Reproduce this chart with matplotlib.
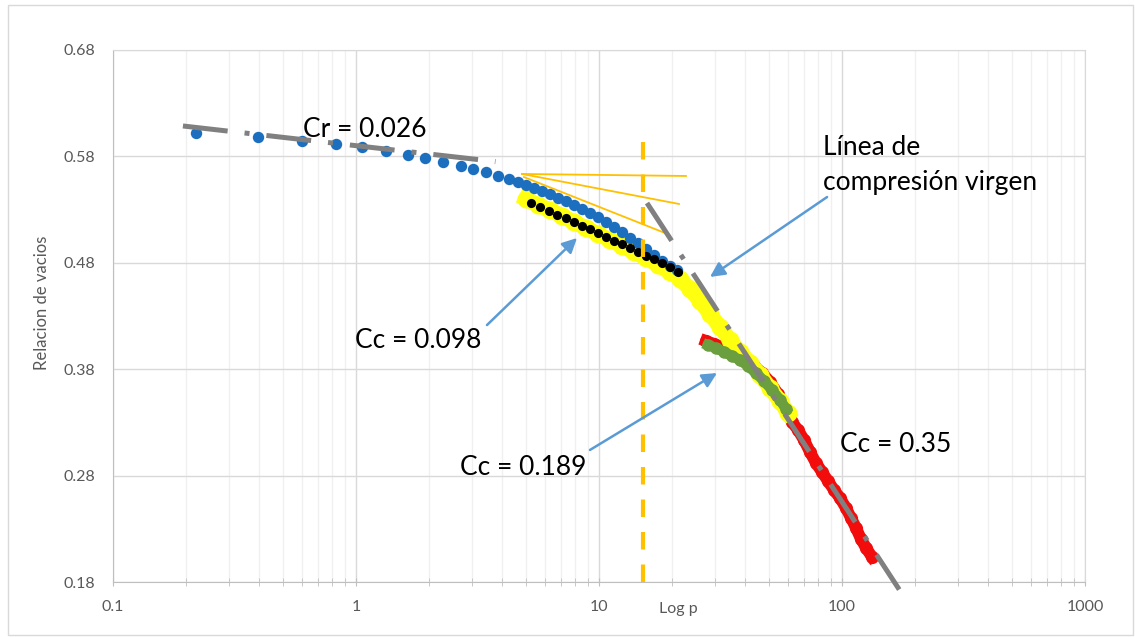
import numpy as np
import matplotlib
matplotlib.use("Agg")
import matplotlib.pyplot as plt
from matplotlib.patches import Rectangle

# --- Datos del ensayo de consolidación (p, e) ---
# Etapa de recompresión (azul)
p_etapa1 = [0.22, 0.394, 0.598, 0.825, 1.062, 1.329, 1.632, 1.929, 2.288, 2.705,
            3.022, 3.428, 3.850, 4.263, 4.656, 5.007, 5.40, 5.83, 6.29, 6.78,
            7.32, 7.89, 8.51, 9.18, 9.91, 10.69, 11.53, 12.44, 13.42, 14.47,
            15.61, 16.84, 18.17, 19.60, 20.94]
e_etapa1 = [0.6017, 0.5985, 0.5948, 0.5917, 0.5886, 0.5851, 0.5813, 0.5782, 0.5750, 0.5710,
            0.5679, 0.5656, 0.5619, 0.5588, 0.5557, 0.5531, 0.5503, 0.5475, 0.5447, 0.5409,
            0.5381, 0.5343, 0.5306, 0.5268, 0.5230, 0.5183, 0.5136, 0.5089, 0.5033, 0.4986,
            0.4930, 0.4873, 0.4817, 0.4770, 0.4732]

# Etapa de descarga (negro)
p_etapa2 = [5.25, 5.72, 6.23, 6.72, 7.32, 7.89, 8.51, 9.18, 9.91, 10.69,
            11.53, 12.44, 13.42, 14.47, 15.61, 16.84, 18.17, 19.60, 21.14]
e_etapa2 = [0.5362, 0.5324, 0.5287, 0.5249, 0.5221, 0.5183, 0.5146, 0.5118, 0.5080, 0.5042,
            0.5005, 0.4977, 0.4939, 0.4902, 0.4864, 0.4836, 0.4798, 0.4761, 0.4714]

# Etapa de carga (amarillo)
p_etapa3 = [5.007, 5.61, 6.29, 7.04, 7.89, 8.84, 9.91, 11.10, 12.44, 13.93,
            15.61, 17.49, 19.60, 21.54, 23.68, 26.04, 28.63, 31.47, 34.60, 38.04,
            41.82, 45.98, 50.55, 55.57, 59.95]
e_etapa3 = [0.5400, 0.5343, 0.5296, 0.5240, 0.5183, 0.5127, 0.5071, 0.5014, 0.4958, 0.4902,
            0.4845, 0.4779, 0.4714, 0.4648, 0.4554, 0.4441, 0.4319, 0.4197, 0.4074, 0.3962,
            0.3858, 0.3746, 0.3623, 0.3501, 0.3388]

# Etapa de descarga (verde)
p_etapa4 = [28.09, 30.30, 32.69, 35.27, 38.04, 41.04, 44.28, 47.76, 51.52, 55.57, 58.83]
e_etapa4 = [0.4027, 0.3999, 0.3962, 0.3924, 0.3886, 0.3830, 0.3764, 0.3689, 0.3605, 0.3511, 0.3426]

# Etapa de carga final (rojo)
p_etapa5 = [27.56, 29.73, 32.08, 34.60, 37.33, 40.27, 43.44, 46.86, 50.55, 54.53,
            58.83, 62.26, 65.90, 69.76, 73.84, 78.16, 82.74, 87.58, 92.70, 98.13,
            103.9, 108.9, 114.2, 119.7, 125.6, 132.9]
e_etapa5 = [0.4065, 0.4037, 0.4009, 0.3971, 0.3933, 0.3886, 0.3830, 0.3764, 0.3680, 0.3567,
            0.3417, 0.3304, 0.3229, 0.3135, 0.3022, 0.2918, 0.2834, 0.2749, 0.2665, 0.2589,
            0.2495, 0.2402, 0.2308, 0.2204, 0.2120, 0.2035]

# Índices de la curva
Cr = 0.026
Cc_virgen = 0.35
Cc_descarga1 = 0.098
Cc_descarga2 = 0.189

# Recta de recompresión
p_cr = [0.194, 3.75]
e_cr0 = 0.6086
# Línea de compresión virgen
p_lcv = [15.76, 172.0]
e_lcv0 = 0.5362

# Construcción de Casagrande (líneas auxiliares)
p_casa_ini = [4.82, 4.82, 4.91]
e_casa_ini = [0.5635, 0.5635, 0.5606]
p_casa_fin = [22.80, 21.34, 18.69]
e_casa_fin = [0.5616, 0.5353, 0.5080]

# Presión de preconsolidación
p_precons = 15.17
e_precons_rango = [0.5935, 0.172]

# Flechas de anotación: (cola, punta)
flechas = [
    ((86.8, 0.5418), (28.63, 0.4667)),
    ((3.46, 0.4215), (8.12, 0.5033)),
    ((9.18, 0.3041), (30.59, 0.3764)),
]

x_ticks = [0.1, 1, 10, 100, 1000]
x_ticklabels = ["0.1", "1", "10", "100", "1000"]
y_ticks = [0.18, 0.28, 0.38, 0.48, 0.58, 0.68]

# --- Figura ---
W, H = 1135, 637
fig = plt.figure(figsize=(W / 100, H / 100), dpi=100)
fig.patch.set_facecolor("white")
fig.patches.append(Rectangle((8 / W, 2 / H), 1125 / W, 630 / H, transform=fig.transFigure,
                             fill=False, edgecolor="#D9D9D9", lw=1))

ax = fig.add_axes([113 / W, (H - 582) / H, 972 / W, 532 / H])
ax.set_xscale("log")
ax.set_xlim(0.1, 1000)
ax.set_ylim(0.18, 0.68)

# Cuadrícula
ax.set_xticks(x_ticks)
ax.set_xticklabels(x_ticklabels)
ax.set_yticks(y_ticks)
ax.set_yticklabels([f"{v:.2f}" for v in y_ticks])
ax.grid(True, which="major", axis="both", color="#D9D9D9", lw=1)
ax.grid(True, which="minor", axis="x", color="#F0F0F0", lw=1)
ax.set_axisbelow(True)
for side in ["top", "right"]:
    ax.spines[side].set_color("#D9D9D9")
for side in ["left", "bottom"]:
    ax.spines[side].set_color("#BFBFBF")
ax.tick_params(axis="y", length=0, pad=13, labelsize=11.5, labelcolor="#595959")
ax.tick_params(axis="x", which="both", direction="inout", length=6, color="#BFBFBF",
               pad=10, labelsize=11.5, labelcolor="#595959")
for lab in ax.get_xticklabels() + ax.get_yticklabels():
    lab.set_family("Lato")

# Series del ensayo
ax.plot(p_etapa5, e_etapa5, "-o", color="#F20C0C", lw=8.5, ms=9.5, mec="none", zorder=2)
ax.plot(p_etapa3, e_etapa3, "-o", color="#FFFF10", lw=11, ms=13, mec="none", zorder=3)
ax.plot(p_etapa4, e_etapa4, "-o", color="#6A9E3E", lw=7.5, ms=9, mec="none", zorder=4)
ax.plot(p_etapa1, e_etapa1, "o", color="#1C6FBF", ms=8.2, mec="none", zorder=5)
ax.plot(p_etapa2, e_etapa2, "o", color="#000000", ms=6.6, mec="none", zorder=6)

# Líneas auxiliares de Casagrande
for x0, y0, x1, y1 in zip(p_casa_ini, e_casa_ini, p_casa_fin, e_casa_fin):
    ax.plot([x0, x1], [y0, y1], color="#FFC000", lw=1.3, zorder=7)

# Presión de preconsolidación
ax.plot([p_precons, p_precons], e_precons_rango, color="#FFC000", lw=3,
        linestyle=(0, (4.2, 3.6)), dash_capstyle="butt", zorder=7, clip_on=False)

# Rectas de Cr y Cc
dash_style = (0, (9, 3.4, 1, 3.4))
p_cr_arr = np.array(p_cr)
ax.plot(p_cr_arr, e_cr0 - Cr * np.log10(p_cr_arr / p_cr[0]), color="#808080", lw=3.6,
        linestyle=dash_style, dash_capstyle="butt", zorder=8)
p_lcv_arr = np.array(p_lcv)
ax.plot(p_lcv_arr, e_lcv0 - Cc_virgen * np.log10(p_lcv_arr / p_lcv[0]), color="#808080",
        lw=3.6, linestyle=dash_style, dash_capstyle="butt", zorder=8, clip_on=False)

# Flechas
for cola, punta in flechas:
    ax.annotate("", xy=punta, xytext=cola,
                arrowprops=dict(arrowstyle="-|>", color="#5B9BD5", lw=1.8,
                                mutation_scale=22, shrinkA=0, shrinkB=0),
                zorder=9)

# Textos
def texto(x, y, s):
    fig.text(x / W, 1 - y / H, s, fontsize=19, family="Lato", ha="left",
             va="baseline", color="black")

texto(303, 137, f"Cr = {Cr:.3f}")
texto(823, 155, "Línea de")
texto(823, 190, "compresión virgen")
texto(355, 348, f"Cc = {Cc_descarga1:.3f}")
texto(460, 475, f"Cc = {Cc_descarga2:.3f}")
texto(840, 452, f"Cc = {Cc_virgen:.2f}")

fig.text(42 / W, 1 - 303 / H, "Relacion de vacios", rotation=90, ha="center",
         va="center", fontsize=12, family="Lato", color="#595959")
fig.text(678 / W, 1 - 609 / H, "Log p", ha="center", va="center", fontsize=11.5,
         family="Lato", color="#595959")

fig.savefig("out.png", dpi=100)
